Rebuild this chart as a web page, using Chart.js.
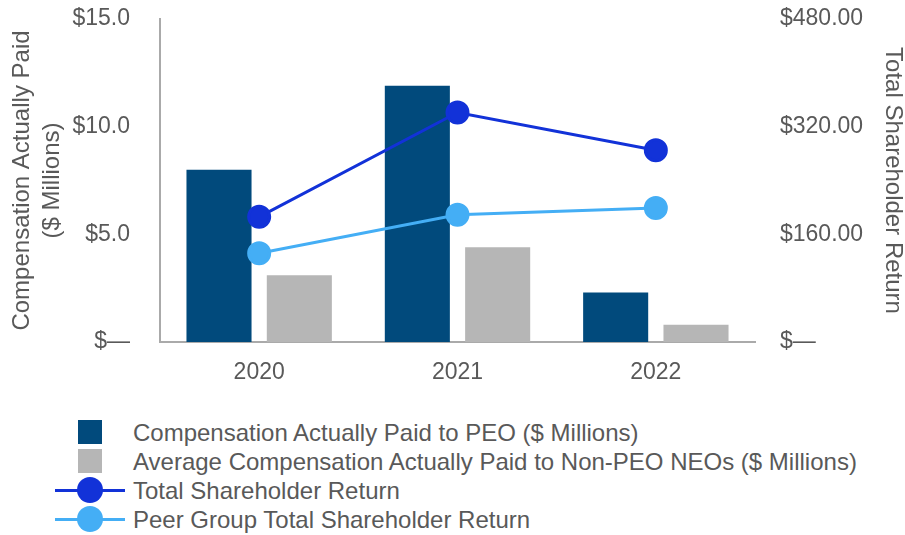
<!DOCTYPE html>
<html>
<head>
<meta charset="utf-8">
<script src="https://cdn.jsdelivr.net/npm/chart.js@4/dist/chart.umd.min.js"></script>
<style>
  body { margin: 0; background: #fff; font-family: "Liberation Sans", Arial, sans-serif; }
  #wrap { position: relative; width: 905px; height: 535px; }
  #chartBox { position: absolute; left: 0; top: 0; width: 905px; height: 400px; }
  #legend { position: absolute; left: 0; top: 418px; }
  .row { position: relative; height: 29px; }
  .row span { position: absolute; left: 133px; top: 0; line-height: 29px; font-size: 24px; color: #595959; white-space: nowrap; }
  .sq { position: absolute; left: 78px; top: 2px; width: 24px; height: 24px; }
  .ln { position: absolute; left: 55px; top: 13px; width: 70px; height: 3px; }
  .dot { position: absolute; left: 77px; top: 1px; width: 26px; height: 26px; border-radius: 50%; }
</style>
</head>
<body>
<div id="wrap">
  <div id="chartBox"><canvas id="cap"></canvas></div>
  <div id="legend"></div>
</div>
<script>
// data
const years = ["2020", "2021", "2022"];
const capPeo = [8.0, 11.9, 2.3];
const capNonPeo = [3.1, 4.4, 0.8];
const tsr = [186, 341, 285];
const peerTsr = [132, 189, 199];

const seriesNames = [
  "Compensation Actually Paid to PEO ($ Millions)",
  "Average Compensation Actually Paid to Non-PEO NEOs ($ Millions)",
  "Total Shareholder Return",
  "Peer Group Total Shareholder Return"
];
const colors = ["#014a7c", "#b6b6b6", "#1232d8", "#44aef5"];

const textGrey = "#595959";
const tickFont = { family: "Liberation Sans", size: 23 };

// the big tick padding would otherwise push the plot area down
function fixVertical(width) {
  return s => {
    s.width = width;
    s.paddingTop = 19;
    s.paddingBottom = 12;
  };
}

new Chart(document.getElementById("cap"), {
  type: "bar",
  data: {
    labels: years,
    datasets: [
      { label: seriesNames[0], data: capPeo, backgroundColor: colors[0], yAxisID: "y", order: 2,
        barPercentage: 0.81, categoryPercentage: 0.81 },
      { label: seriesNames[1], data: capNonPeo, backgroundColor: colors[1], yAxisID: "y", order: 2,
        barPercentage: 0.81, categoryPercentage: 0.81 },
      { type: "line", label: seriesNames[2], data: tsr, borderColor: colors[2], backgroundColor: colors[2],
        borderWidth: 3, pointRadius: 10.5, pointHoverRadius: 10.5, yAxisID: "y1", order: 0 },
      { type: "line", label: seriesNames[3], data: peerTsr, borderColor: colors[3], backgroundColor: colors[3],
        borderWidth: 3, pointRadius: 10.5, pointHoverRadius: 10.5, yAxisID: "y1", order: 1 }
    ]
  },
  options: {
    responsive: true,
    maintainAspectRatio: false,
    animation: false,
    layout: { padding: 0, autoPadding: false },
    plugins: { legend: { display: false }, tooltip: { enabled: false } },
    scales: {
      x: {
        grid: { display: false, drawTicks: false },
        border: { display: true, color: "#aaaaaa", width: 2 },
        ticks: { color: textGrey, font: tickFont, padding: 17 },
        afterFit: s => { s.height = 58; }
      },
      y: {
        position: "left",
        min: 0, max: 15,
        grid: { display: false, drawTicks: false },
        border: { display: true, color: "#aaaaaa", width: 2 },
        ticks: {
          stepSize: 5, color: textGrey, font: tickFont, padding: 30,
          callback: v => v === 0 ? "$\u2014" : "$" + v.toFixed(1)
        },
        title: {
          display: true,
          text: ["Compensation Actually Paid", "($ Millions)"],
          color: textGrey,
          font: { family: "Liberation Sans", size: 24, lineHeight: 1.25 },
          padding: { top: 7, bottom: 0 }
        },
        afterFit: fixVertical(160)
      },
      y1: {
        position: "right",
        min: 0, max: 480,
        grid: { display: false, drawTicks: false },
        border: { display: false },
        ticks: {
          stepSize: 160, color: textGrey, font: tickFont, padding: 25,
          callback: v => v === 0 ? "$\u2014" : "$" + v.toFixed(2)
        },
        title: {
          display: true,
          text: "Total Shareholder Return",
          color: textGrey,
          font: { family: "Liberation Sans", size: 24, lineHeight: 1.0 },
          padding: { top: 0, bottom: 0 }
        },
        afterFit: fixVertical(150)
      }
    }
  }
});

// legend laid out as a vertical list, like the reference
const legend = document.getElementById("legend");
seriesNames.forEach((name, i) => {
  const row = document.createElement("div");
  row.className = "row";
  if (i < 2) {
    row.innerHTML = `<div class="sq" style="background:${colors[i]}"></div>`;
  } else {
    row.innerHTML = `<div class="ln" style="background:${colors[i]}"></div>` +
      `<div class="dot" style="background:${colors[i]}"></div>`;
  }
  const label = document.createElement("span");
  label.textContent = name;
  row.appendChild(label);
  legend.appendChild(row);
});
</script>
</body>
</html>
